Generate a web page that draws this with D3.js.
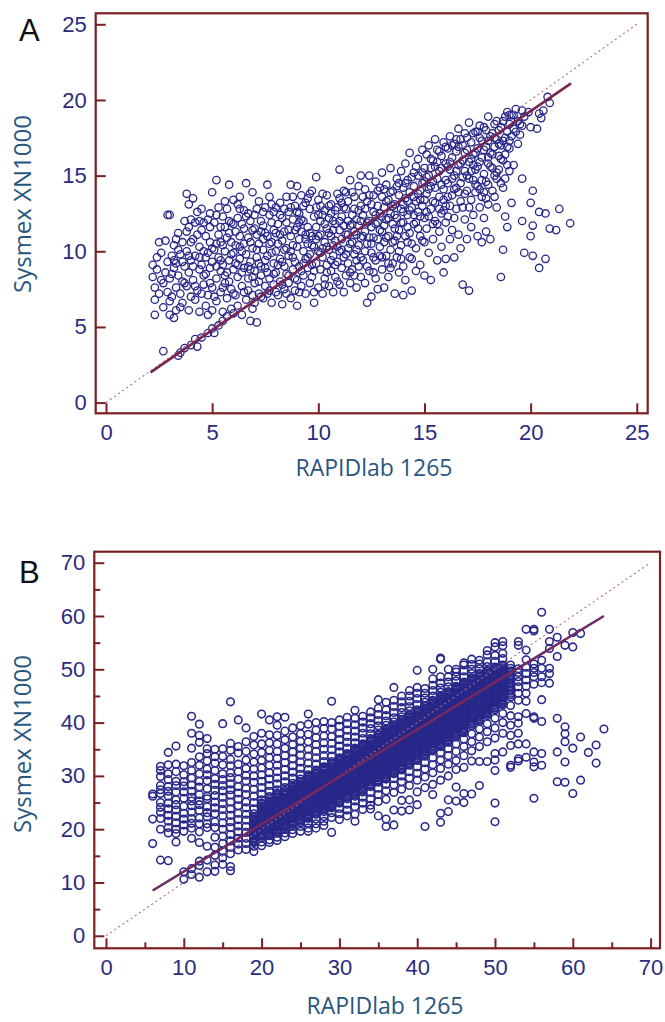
<!DOCTYPE html>
<html><head><meta charset="utf-8">
<script src="https://cdn.jsdelivr.net/npm/d3@7"></script>
<style>
html,body{margin:0;padding:0;background:#fff;}
svg{display:block;}
</style></head>
<body>
<svg id="c" width="665" height="1022"></svg>
<script>
// ---------- Panel A data (RAPIDlab 1265 vs Sysmex XN1000) ----------
const aPoints = [
[2.2,8.3],[2.2,9.1],[2.3,5.8],[2.3,6.8],[2.3,7.6],[2.4,9.6],[2.4,8.8],[2.5,10.6],[2.5,7.2],[2.6,8.1],[2.6,9.9],[2.7,3.4],[2.7,6.3],[2.7,7.9],[2.8,8.6],[2.8,10.7],[2.9,12.4],[2.9,7.3],[2.9,9.3],[3.0,12.4],[3.0,5.8],[3.0,8.2],[3.0,6.7],
[3.1,9.7],[3.1,7.0],[3.2,5.6],[3.2,8.9],[3.2,10.4],[3.3,7.6],[3.3,9.2],[3.3,6.1],[3.4,8.4],[3.4,11.2],[3.4,3.1],[3.5,9.8],[3.5,7.2],[3.5,3.3],[3.6,10.6],[3.6,8.0],[3.6,6.6],[3.7,9.0],[3.7,12.0],[3.7,3.6],[3.8,13.8],[3.8,11.3],[3.8,7.7],[3.8,10.0],[3.9,8.6],[3.9,6.1],[3.9,13.1],[4.0,9.4],[4.0,12.1],[4.0,3.8],[4.0,7.0],
[4.1,10.8],[4.1,8.1],[4.1,13.5],[4.2,9.7],[4.2,11.9],[4.2,4.2],[4.2,6.8],[4.3,7.4],[4.3,12.6],[4.3,3.7],[4.4,8.8],[4.4,10.3],[4.4,6.0],[4.5,11.4],[4.5,9.1],[4.5,12.8],[4.5,4.3],[4.6,7.8],[4.6,10.0],[4.6,8.4],[4.7,11.0],[4.7,6.4],[4.7,9.6],[4.8,4.6],[4.8,12.1],[4.8,7.1],[4.8,5.8],[4.9,10.6],[4.9,8.9],[4.9,11.6],[5.0,4.9],[5.0,13.9],[5.0,9.3],[5.0,7.6],[5.0,6.1],
[5.1,4.6],[5.1,10.1],[5.1,11.9],[5.2,8.2],[5.2,14.7],[5.2,12.4],[5.2,6.7],[5.3,9.6],[5.3,5.1],[5.3,11.1],[5.4,7.3],[5.4,10.6],[5.4,8.7],[5.5,5.4],[5.5,12.3],[5.5,9.1],[5.5,6.0],[5.6,11.6],[5.6,7.9],[5.6,10.0],[5.7,5.7],[5.7,8.6],[5.7,12.8],[5.7,6.9],[5.8,9.4],[5.8,11.2],[5.8,14.4],[5.9,7.5],[5.9,10.6],[5.9,6.2],[6.0,8.8],[6.0,11.8],[6.0,13.4],[6.0,9.9],[6.0,5.9],
[6.1,7.1],[6.1,10.4],[6.2,12.2],[6.2,8.3],[6.2,6.4],[6.3,9.5],[6.3,11.0],[6.3,13.6],[6.4,7.7],[6.4,10.0],[6.4,5.8],[6.5,8.9],[6.5,12.7],[6.5,11.5],[6.6,6.8],[6.6,9.8],[6.6,14.5],[6.7,8.2],[6.7,10.9],[6.7,7.4],[6.8,12.0],[6.8,9.3],[6.8,5.4],[6.9,6.2],[6.9,11.4],[6.9,10.2],[6.9,13.9],[7.0,7.9],[7.0,8.7],[7.0,12.4],[7.0,6.6],
[7.1,9.6],[7.1,11.1],[7.1,5.3],[7.2,13.3],[7.2,7.2],[7.2,10.5],[7.3,8.4],[7.3,12.0],[7.3,9.0],[7.4,6.9],[7.4,11.7],[7.4,10.1],[7.5,7.7],[7.5,12.9],[7.5,8.9],[7.6,14.4],[7.6,9.7],[7.6,11.0],[7.7,7.4],[7.7,8.2],[7.7,12.4],[7.8,10.6],[7.8,6.6],[7.8,13.1],[7.9,9.2],[7.9,11.4],[7.9,7.8],[8.0,12.9],[8.0,8.6],[8.0,10.0],
[8.1,7.1],[8.1,11.8],[8.2,9.5],[8.2,13.2],[8.2,8.0],[8.3,10.7],[8.3,12.2],[8.3,6.5],[8.4,9.0],[8.4,11.3],[8.4,7.5],[8.5,10.2],[8.5,13.6],[8.5,8.5],[8.6,12.6],[8.6,7.9],[8.6,9.7],[8.7,11.0],[8.7,6.9],[8.7,14.4],[8.8,8.8],[8.8,12.1],[8.8,10.4],[8.9,7.4],[8.9,9.3],[8.9,13.0],[9.0,14.3],[9.0,11.6],[9.0,8.1],[9.0,6.4],
[9.1,10.8],[9.1,12.5],[9.1,9.0],[9.2,7.7],[9.2,13.7],[9.2,11.3],[9.3,8.4],[9.3,10.0],[9.3,12.0],[9.4,9.5],[9.4,7.2],[9.4,13.2],[9.5,11.6],[9.5,8.9],[9.5,10.5],[9.6,12.8],[9.6,7.9],[9.6,9.8],[9.7,11.0],[9.7,14.0],[9.7,8.3],[9.8,10.3],[9.8,12.3],[9.8,6.6],[9.9,9.2],[9.9,14.9],[9.9,11.6],[10.0,7.6],[10.0,13.4],[10.0,10.0],
[10.1,8.8],[10.1,12.0],[10.1,11.1],[10.2,13.8],[10.2,9.6],[10.2,7.2],[10.3,10.6],[10.3,12.7],[10.3,8.2],[10.4,11.5],[10.4,9.1],[10.4,13.7],[10.5,10.1],[10.5,7.7],[10.5,12.2],[10.6,8.7],[10.6,11.0],[10.6,13.1],[10.7,9.7],[10.7,12.0],[10.7,7.3],[10.8,10.7],[10.8,11.8],[10.8,8.3],[10.9,12.9],[10.9,9.3],[10.9,10.3],[11.0,11.4],[11.0,7.8],[11.0,13.5],[11.0,15.4],
[11.1,8.9],[11.1,12.3],[11.1,10.8],[11.2,9.6],[11.2,14.0],[11.2,7.3],[11.3,11.1],[11.3,12.8],[11.3,8.4],[11.4,10.2],[11.4,13.3],[11.4,9.2],[11.5,11.7],[11.5,7.9],[11.5,14.7],[11.6,10.6],[11.6,12.4],[11.6,8.8],[11.7,9.8],[11.7,13.6],[11.7,11.3],[11.8,7.6],[11.8,12.1],[11.8,10.1],[11.9,14.3],[11.9,9.0],[11.9,11.7],[12.0,8.3],[12.0,13.0],[12.0,10.9],[12.0,15.0],
[12.1,12.4],[12.1,9.4],[12.2,11.3],[12.2,14.1],[12.2,7.9],[12.3,6.6],[12.3,10.5],[12.3,13.3],[12.4,12.0],[12.4,8.7],[12.4,15.0],[12.5,11.6],[12.5,9.9],[12.5,7.0],[12.6,13.7],[12.6,10.9],[12.6,12.6],[12.7,8.2],[12.7,14.6],[12.7,9.4],[12.8,11.9],[12.8,13.0],[12.8,7.5],[12.9,10.3],[12.9,12.5],[12.9,14.2],[13.0,8.8],[13.0,11.3],[13.0,13.6],[13.0,15.2],
[13.1,10.6],[13.1,12.9],[13.1,7.6],[13.2,14.4],[13.2,9.7],[13.2,12.1],[13.3,11.0],[13.3,13.4],[13.3,8.3],[13.4,15.5],[13.4,12.5],[13.4,10.1],[13.5,14.0],[13.5,9.2],[13.5,11.8],[13.6,13.1],[13.6,7.2],[13.6,10.7],[13.7,14.8],[13.7,12.2],[13.7,9.6],[13.8,11.4],[13.8,13.7],[13.8,8.6],[13.9,15.3],[13.9,12.8],[13.9,10.4],[14.0,14.2],[14.0,7.1],[14.0,11.9],[14.0,9.0],
[14.1,13.5],[14.1,15.8],[14.1,8.1],[14.2,12.4],[14.2,10.6],[14.2,14.7],[14.3,16.5],[14.3,11.2],[14.3,13.9],[14.4,9.5],[14.4,12.9],[14.4,7.4],[14.5,15.2],[14.5,11.8],[14.5,14.3],[14.6,10.2],[14.6,13.3],[14.6,8.7],[14.7,16.1],[14.7,12.6],[14.7,15.0],[14.8,11.0],[14.8,14.0],[14.8,9.1],[14.9,13.0],[14.9,16.7],[14.9,10.7],[15.0,15.5],[15.0,12.2],[15.0,14.6],[15.0,8.4],
[15.1,13.8],[15.1,16.4],[15.1,11.5],[15.2,15.0],[15.2,9.9],[15.2,17.0],[15.3,12.8],[15.3,14.3],[15.3,8.1],[15.4,16.0],[15.4,13.3],[15.4,10.8],[15.5,15.6],[15.5,17.4],[15.5,12.0],[15.6,14.8],[15.6,9.4],[15.6,16.7],[15.7,13.6],[15.7,11.3],[15.7,15.3],[15.8,16.3],[15.8,12.5],[15.8,10.3],[15.9,14.1],[15.9,17.2],[15.9,8.6],[16.0,15.8],[16.0,13.0],[16.0,11.9],[16.0,9.5],
[16.1,16.8],[16.1,14.5],[16.1,12.3],[16.2,15.4],[16.2,17.6],[16.2,10.8],[16.3,13.7],[16.3,16.2],[16.3,11.4],[16.4,15.0],[16.4,17.1],[16.4,9.6],[16.5,14.2],[16.5,16.6],[16.5,12.8],[16.6,18.1],[16.6,15.7],[16.6,11.1],[16.7,13.3],[16.7,17.4],[16.7,10.2],[16.8,14.9],[16.8,16.0],[16.8,7.8],[16.9,12.1],[16.9,17.8],[16.9,15.3],[17.0,14.0],[17.0,16.7],[17.0,10.8],[17.1,7.4],
[17.1,18.5],[17.1,15.9],[17.2,13.4],[17.2,17.2],[17.2,11.6],[17.3,16.4],[17.3,14.7],[17.3,12.4],[17.4,17.9],[17.4,15.4],[17.4,13.9],[17.5,16.8],[17.5,11.0],[17.5,14.3],[17.6,17.5],[17.6,15.9],[17.6,12.9],[17.7,16.2],[17.7,13.6],[17.7,10.6],[17.8,18.2],[17.8,15.1],[17.8,12.2],[17.9,16.9],[17.9,14.6],[17.9,11.3],[18.0,18.9],[18.0,17.3],[18.0,15.8],[18.0,13.1],
[18.1,16.5],[18.1,10.8],[18.2,17.8],[18.2,14.0],[18.3,18.4],[18.3,16.9],[18.3,13.6],[18.4,17.4],[18.4,15.2],[18.4,12.9],[18.5,18.0],[18.5,16.3],[18.6,14.5],[18.6,17.0],[18.6,8.3],[18.7,18.6],[18.7,14.2],[18.7,10.1],[18.8,17.5],[18.8,16.4],[18.8,12.3],[18.9,19.2],[18.9,17.9],[18.9,11.6],[19.0,18.4],[19.0,16.8],[19.0,15.3],
[19.1,19.0],[19.1,17.6],[19.1,13.2],[19.2,18.1],[19.2,15.7],[19.3,19.4],[19.3,17.9],[19.4,18.6],[19.5,17.7],[19.6,14.8],[19.6,19.3],[19.6,18.3],[19.6,12.0],[19.7,18.9],[19.7,9.9],[19.9,19.2],[20.0,13.2],[20.0,18.2],[20.0,11.0],[20.1,14.0],[20.1,11.7],[20.1,9.7],
[20.3,18.1],[20.4,12.6],[20.4,19.1],[20.4,8.9],[20.5,18.8],[20.6,19.3],[20.7,12.5],[20.7,9.5],[20.8,20.2],[20.9,11.5],[20.9,19.8],[21.2,11.4],[21.35,12.8],[21.86,11.85],
[3.2,9.4],[3.4,10.1],[3.6,9.3],[3.9,11.6],[4.1,9.0],[4.3,11.1],[4.4,9.6],[4.6,11.9],[4.8,9.9],[4.9,7.9],[5.2,9.0],[5.4,11.6],[5.5,10.4],[5.6,8.4],[5.8,12.0],[5.9,9.8],[6.1,11.3],[6.2,9.1],[6.3,12.8],[6.4,8.6],[6.5,10.5],[6.7,12.5],[6.8,8.8],[6.9,7.1],
[7.1,10.1],[7.2,8.0],[7.3,11.3],[7.4,12.6],[7.5,9.4],[7.6,7.2],[7.7,10.5],[7.8,11.9],[7.9,8.5],[8.0,11.2],[8.1,9.1],[8.2,12.4],[8.3,7.8],[8.4,10.1],[8.5,11.9],[8.6,8.4],[8.7,12.9],[8.8,9.6],[8.9,11.4],[9.0,10.3],[9.1,7.3],[9.2,12.1],[9.3,9.2],[9.4,10.8],[9.5,13.5],[9.6,11.2],[9.7,9.1],[9.8,7.3],[9.9,12.9],[10.0,11.0],
[10.1,9.9],[10.2,12.4],[10.3,7.8],[10.4,10.3],[10.5,13.0],[10.6,9.4],[10.7,11.4],[10.8,12.7],[10.9,8.0],[11.0,10.0],[11.1,13.2],[11.2,11.7],[11.3,9.8],[11.4,12.0],[11.5,10.5],[11.6,13.9],[11.7,8.4],[11.8,11.1],[11.9,12.7],[12.0,9.6],
[12.1,11.0],[12.2,12.8],[12.3,9.0],[12.4,13.7],[12.5,10.5],[12.6,8.6],[12.7,11.8],[12.8,14.0],[12.9,9.7],[13.0,12.3],[13.1,14.1],[13.2,10.9],[13.3,12.2],[13.4,8.9],[13.5,13.0],[13.6,11.5],[13.7,14.3],[13.8,10.0],[13.9,11.9],[14.0,13.1],
[14.1,11.0],[14.2,13.3],[14.3,9.6],[14.4,14.9],[14.5,12.4],[14.6,15.6],[14.7,11.5],[14.8,13.4],[14.9,15.2],[15.0,10.6],[15.1,14.9],[15.2,12.3],[15.3,16.1],[15.4,14.6],[15.5,13.2],[15.6,11.8],[15.7,16.6],[15.8,14.4],[15.9,12.7],[16.0,16.9],
[16.1,13.6],[16.2,15.9],[16.3,14.8],[16.4,12.2],[16.5,17.4],[16.6,13.9],[16.7,15.8],[16.8,12.9],[16.9,16.5],[17.0,15.0],[17.1,12.9],[17.2,16.1],[17.3,17.8],[17.4,14.4],[17.5,15.6],[17.6,18.3],[17.7,14.7],[17.8,16.7],[17.9,13.5],[18.0,16.2],
[18.1,17.6],[18.2,15.5],[18.3,17.5],[18.4,14.8],[18.5,17.1],[18.6,18.2],[18.7,16.0],[18.8,18.9],[18.9,15.7],[19.0,17.3],[19.2,19.0],[19.4,17.1],[19.5,18.4],
[3.1,8.5],[3.3,10.8],[3.5,6.3],[3.7,7.9],[3.9,9.7],[4.0,10.6],[4.2,7.7],[4.4,12.0],[4.5,7.2],[4.7,8.5],[4.9,12.5],[5.0,10.2],
[5.1,7.0],[5.2,10.5],[5.3,12.9],[5.4,9.4],[5.5,7.6],[5.6,13.3],[5.7,10.9],[5.8,8.0],[5.9,11.9],[6.0,7.2],[6.1,9.2],[6.2,13.1],[6.3,10.3],[6.4,11.8],[6.5,7.3],[6.6,12.3],[6.7,9.0],[6.8,10.6],[6.9,8.3],[7.0,11.5],
[7.1,12.8],[7.2,9.2],[7.3,7.0],[7.4,10.8],[7.5,11.2],[7.6,8.6],[7.7,13.6],[7.8,9.9],[7.9,12.6],[8.0,7.3],[8.1,10.5],[8.2,11.1],[8.3,9.3],[8.4,12.8],[8.5,7.2],[8.6,11.4],[8.7,10.0],[8.8,13.6],[8.9,8.2],[9.0,12.6],
[9.1,11.9],[9.2,8.7],[9.3,13.0],[9.4,11.1],[9.5,9.6],[9.6,13.8],[9.7,10.4],[9.8,8.7],[9.9,10.8],[10.0,12.4],[10.1,13.0],[10.2,10.2],[10.3,11.8],[10.4,8.6],[10.5,11.2],[10.6,12.5],[10.7,10.4],[10.8,9.1],[10.9,13.8],[11.0,12.0],
[11.1,10.1],[11.2,12.9],[11.3,13.9],[11.4,11.1],[11.5,8.6],[11.6,11.8],[11.7,12.8],[11.8,9.4],[11.9,10.4],[12.0,12.0],[12.1,13.6],[12.2,10.0],[12.3,11.9],[12.4,10.9],[12.5,13.1],[12.6,9.6],[12.7,12.4],[12.8,10.8],[12.9,11.4],[13.0,9.6],
[13.1,11.7],[13.2,13.3],[13.3,9.2],[13.4,13.9],[13.5,10.6],[13.6,12.4],[13.7,11.0],[13.8,14.5],[13.9,9.5],[14.0,12.6],[14.1,14.5],[14.2,11.6],[14.3,12.7],[14.4,10.5],[14.5,13.6],[14.6,11.9],[14.7,13.8],[14.8,12.3],[14.9,14.5],[15.0,13.4],
[15.1,12.6],[15.2,14.1],[15.3,15.5],[15.4,11.8],[15.5,14.2],[15.6,15.9],[15.7,12.8],[15.8,15.5],[15.9,13.4],[16.0,14.7],[16.1,15.6],[16.2,13.0],[16.3,17.0],[16.4,14.1],[16.5,15.3],[16.6,16.9],[16.7,14.5],[16.8,17.0],[16.9,13.8],[17.0,17.5],
[17.1,14.8],[17.2,15.3],[17.3,15.7],[17.4,16.5],[17.5,17.9],[17.6,14.1],[17.7,17.3],[17.8,13.9],[17.9,18.0],[18.0,14.4],[18.1,15.6],[18.2,16.4],[18.3,15.0],[18.4,18.6],[18.5,15.4],[18.6,16.1],[18.7,17.3],[18.8,14.8],[18.9,16.9],[19.0,19.0]
];
const aFit = [[2.1, 2.0], [21.9, 21.1]];
const aIdentity = [[0, 0], [25, 25]];
const aTicks = [0, 5, 10, 15, 20, 25];

// ---------- Panel B data ----------
const bX = [6,7,8,9,10,11,12,13,14,15,16,17,18,19,20,21,22,23,24,25,26,27,28,29,30,31,32,33,34,35,36,37,38,39,40,41,42,43,44,45,46,47,48,49,50,51,52,53,54,55,56,57,58,59,60,61,62,63,64];
const bY = [
[26.6,26.2,21.9,17.3],
[31.8,31.0,29.9,28.2,27.4,26.7,25.0,24.1,23.2,22.0,20.0,14.2],
[34.4,32.1,30.4,29.3,28.0,27.1,26.2,24.9,23.8,22.6,21.5,20.3,19.3,14.1],
[35.6,32.2,30.8,29.0,28.2,27.0,25.5,24.6,23.6,22.4,21.2,20.0,19.2,17.6],
[31.9,30.2,28.9,28.1,27.0,25.8,24.3,23.0,21.9,20.8,19.6,12.0,10.6],
[41.2,38.0,35.2,32.5,31.0,29.6,28.3,27.1,26.0,25.3,24.4,23.2,22.0,21.1,20.2,18.3,12.6,11.5],
[39.7,37.6,36.3,33.6,32.0,30.4,29.0,27.9,26.5,25.3,24.6,23.5,22.1,21.0,19.5,17.5,14.0,13.2,11.0],
[37.0,35.1,34.2,32.8,31.3,30.2,29.1,27.6,26.2,25.7,24.2,23.1,22.3,21.0,20.3,16.8,14.2,12.0],
[35.0,33.6,32.4,31.0,29.5,28.4,27.3,26.3,25.1,24.0,22.9,21.4,20.3,18.5,16.6,15.1,13.3,12.1],
[39.8,35.1,33.7,32.1,30.4,29.3,28.2,27.2,26.0,24.8,23.7,22.5,21.2,20.0,18.7,17.3,15.9,14.6,13.4],
[43.9,36.1,34.8,33.1,31.9,30.6,29.7,28.5,27.4,26.4,25.1,23.8,22.6,21.4,20.3,19.0,17.8,16.6,15.4,13.0,12.2],
[40.5,35.5,34.3,32.2,30.8,29.4,28.0,26.8,25.6,24.4,23.0,21.8,20.6,19.5,18.3,17.2,16.1],
[39.0,36.4,34.6,33.0,31.4,30.1,29.0,27.7,26.5,25.1,24.0,22.8,21.7,20.5,19.4,18.3,17.3,16.2],
[37.4,35.8,34.1,32.6,31.3,30.0,28.8,27.5,26.2,25.0,23.8,22.9,22.4,21.9,21.4,20.9,20.4,19.9,19.4,18.9,18.4,17.9,17.5,16.8,15.8],
[41.6,38.0,36.0,34.4,32.9,31.5,30.2,29.0,27.8,26.6,25.5,24.9,24.4,23.9,23.4,22.9,22.4,21.9,21.4,20.9,20.4,19.9,19.4,18.9,18.4,17.6,16.9],
[40.5,37.7,36.2,34.8,33.4,32.0,30.6,29.4,28.2,27.1,26.1,25.6,25.1,24.6,24.1,23.6,23.1,22.6,22.1,21.6,21.1,20.6,20.1,19.6,19.1,18.8,18.0,17.5],
[41.1,39.5,37.6,36.0,34.6,33.3,32.0,30.8,29.6,28.5,27.4,26.8,26.3,25.8,25.3,24.8,24.3,23.8,23.3,22.8,22.3,21.8,21.3,20.8,20.3,19.8,19.3,18.5,17.9],
[41.0,38.4,36.8,35.2,33.8,32.5,31.2,30.0,28.9,27.8,27.3,26.8,26.3,25.8,25.3,24.8,24.3,23.8,23.3,22.8,22.3,21.8,21.3,20.8,20.3,20.0,19.3,18.6],
[39.0,37.3,35.9,34.5,33.2,31.9,30.7,29.6,28.6,28.1,27.6,27.1,26.6,26.1,25.6,25.1,24.6,24.1,23.6,23.1,22.6,22.1,21.6,21.1,20.6,19.9,19.2],
[39.4,37.9,36.5,35.2,33.9,32.6,31.4,30.3,29.4,29.0,28.5,28.0,27.5,27.0,26.5,26.0,25.5,25.0,24.5,24.0,23.5,23.0,22.5,22.0,21.5,21.2,20.5,19.6],
[41.6,39.7,37.8,36.4,35.0,33.7,32.4,31.2,30.2,29.9,29.4,28.9,28.4,27.9,27.4,26.9,26.4,25.9,25.4,24.9,24.4,23.9,23.4,22.9,22.4,22.0,21.1,20.2,19.6],
[40.0,38.6,37.2,35.9,34.6,33.4,32.2,31.1,30.8,30.3,29.8,29.3,28.8,28.3,27.8,27.3,26.8,26.3,25.8,25.3,24.8,24.3,23.8,23.3,22.8,21.9,21.0,20.2],
[40.2,38.9,37.5,36.2,35.0,33.8,32.7,31.7,31.6,31.1,30.6,30.1,29.6,29.1,28.6,28.1,27.6,27.1,26.6,26.1,25.6,25.1,24.6,24.1,23.6,23.3,22.4,21.5,20.7],
[44.0,40.0,38.8,37.4,36.1,34.9,33.7,32.7,32.4,31.9,31.4,30.9,30.4,29.9,29.4,28.9,28.4,27.9,27.4,26.9,26.4,25.9,25.4,24.9,24.4,24.0,23.1,22.2,19.4],
[40.5,39.3,38.0,36.8,35.6,34.5,33.4,32.9,32.4,31.9,31.4,30.9,30.4,29.9,29.4,28.9,28.4,27.9,27.4,26.9,26.4,25.9,25.4,24.9,23.9,22.9,21.8],
[41.0,39.8,38.6,37.4,36.3,35.2,34.2,33.7,33.2,32.7,32.2,31.7,31.2,30.7,30.2,29.7,29.2,28.7,28.2,27.7,27.2,26.7,26.2,25.7,24.7,23.6,22.5],
[42.3,40.8,39.6,38.4,37.3,36.2,35.2,34.7,34.2,33.7,33.2,32.7,32.2,31.7,31.2,30.7,30.2,29.7,29.2,28.7,28.2,27.7,27.2,26.7,26.2,25.3,24.2,22.8,21.5],
[41.2,40.1,39.0,38.0,37.0,36.0,35.5,35.0,34.5,34.0,33.5,33.0,32.5,32.0,31.5,31.0,30.5,30.0,29.5,29.0,28.5,28.0,27.5,27.0,26.0,24.9,23.7],
[42.0,40.9,39.8,38.9,37.9,37.0,36.5,36.0,35.5,35.0,34.5,34.0,33.5,33.0,32.5,32.0,31.5,31.0,30.5,30.0,29.5,29.0,28.5,28.0,26.9,25.7,24.5,23.8],
[44.3,42.7,41.5,40.4,39.4,38.6,37.8,37.3,36.8,36.3,35.8,35.3,34.8,34.3,33.8,33.3,32.8,32.3,31.8,31.3,30.8,30.3,29.8,29.3,28.8,27.7,26.5,25.2,22.5],
[43.8,42.4,41.3,40.3,39.5,38.8,38.3,37.8,37.3,36.8,36.3,35.8,35.3,34.8,34.3,33.8,33.3,32.8,32.3,31.8,31.3,30.8,30.3,29.8,29.4,28.4,27.2,25.6,21.9,20.5],
[46.6,44.2,43.0,41.9,40.9,40.1,39.6,39.1,38.6,38.1,37.6,37.1,36.6,36.1,35.6,35.1,34.6,34.1,33.6,33.1,32.6,32.1,31.6,31.1,30.6,29.5,28.3,26.9,23.6,20.8],
[45.0,43.9,42.8,41.9,41.1,40.6,40.1,39.6,39.1,38.6,38.1,37.6,37.1,36.6,36.1,35.6,35.1,34.6,34.1,33.6,33.1,32.6,32.1,31.6,31.1,30.0,28.9,27.5,25.4,23.4],
[46.0,45.0,44.0,43.0,42.2,41.5,41.0,40.5,40.0,39.5,39.0,38.5,38.0,37.5,37.0,36.5,36.0,35.5,35.0,34.5,34.0,33.5,33.0,32.5,32.0,30.8,29.6,28.2,25.5,23.6],
[49.8,46.6,45.5,44.5,43.4,42.4,41.9,41.4,40.9,40.4,39.9,39.4,38.9,38.4,37.9,37.4,36.9,36.4,35.9,35.4,34.9,34.4,33.9,33.4,32.9,31.7,30.5,29.2,27.0,24.6],
[46.4,45.5,44.6,43.8,43.2,42.7,42.2,41.7,41.2,40.7,40.2,39.7,39.2,38.7,38.2,37.7,37.2,36.7,36.2,35.7,35.2,34.7,34.2,33.7,32.5,31.3,29.8,27.8,20.5],
[50.0,48.2,47.0,46.0,45.0,44.2,43.7,43.2,42.7,42.2,41.7,41.2,40.7,40.2,39.7,39.2,38.7,38.2,37.7,37.2,36.7,36.2,35.7,35.2,34.7,33.4,32.1,30.6,28.4,26.5],
[52.1,51.9,48.6,47.4,46.5,45.7,45.0,44.5,44.0,43.5,43.0,42.5,42.0,41.5,41.0,40.5,40.0,39.5,39.0,38.5,38.0,37.5,37.0,36.5,36.0,35.5,34.3,33.0,31.4,29.2,23.0,21.3],
[50.0,48.6,47.6,46.7,45.8,45.3,44.8,44.3,43.8,43.3,42.8,42.3,41.8,41.3,40.8,40.3,39.8,39.3,38.8,38.3,37.8,37.3,36.8,36.3,35.1,33.8,32.2,30.0,25.5,23.3],
[50.0,49.5,48.7,47.8,46.8,46.3,45.8,45.3,44.8,44.3,43.8,43.3,42.8,42.3,41.8,41.3,40.8,40.3,39.8,39.3,38.8,38.3,37.8,37.3,36.0,34.6,32.9,31.2,27.9,25.3],
[51.2,50.8,49.7,48.6,47.6,47.1,46.6,46.1,45.6,45.1,44.6,44.1,43.6,43.1,42.6,42.1,41.6,41.1,40.6,40.1,39.6,39.1,38.6,38.1,36.9,35.5,33.8,31.6,26.7,25.0],
[51.9,50.9,50.0,49.2,48.4,47.9,47.4,46.9,46.4,45.9,45.4,44.9,44.4,43.9,43.4,42.9,42.4,41.9,41.4,40.9,40.4,39.9,39.4,37.9,36.4,34.7,32.8,26.6],
[51.7,51.0,50.1,49.2,48.7,48.2,47.7,47.2,46.7,46.2,45.7,45.2,44.7,44.2,43.7,43.2,42.7,42.2,41.7,41.2,40.7,40.2,38.8,37.3,35.5,32.7,28.2],
[53.5,52.7,51.4,50.5,49.8,49.3,48.8,48.3,47.8,47.3,46.8,46.3,45.8,45.3,44.8,44.3,43.8,43.3,42.8,42.3,41.8,41.3,39.8,38.3,36.4,32.7],
[55.0,54.2,52.6,51.5,50.4,49.9,49.4,48.9,48.4,47.9,47.4,46.9,46.4,45.9,45.4,44.9,44.4,43.9,43.4,42.9,42.4,40.8,39.0,37.1,34.2,33.0,31.0,24.9,21.4],
[55.2,54.4,53.0,52.0,50.8,50.3,49.8,49.3,48.8,48.3,47.8,47.3,46.8,46.3,45.8,45.3,44.8,44.3,43.8,43.3,41.7,40.0,38.0,34.5],
[50.8,50.2,49.7,49.0,48.3,47.6,46.9,46.2,45.5,44.8,43.2,41.3,39.5,37.6,35.7,32.0,31.6],
[55.2,54.5,50.1,49.4,48.6,47.7,46.7,45.5,44.2,41.1,39.9,38.0,36.0,33.2,32.8],
[57.5,53.6,51.8,50.4,49.2,48.0,46.8,45.5,44.0,41.7,36.0,33.5],
[57.2,57.5,51.0,50.2,49.4,48.6,47.2,41.1,40.8,34.5,32.6,31.7,25.8],
[60.7,51.7,50.2,48.6,47.5,44.3,40.2,34.2,32.0],
[57.5,55.2,53.9,50.2,49.2,47.4],
[56.0,52.4,40.8,34.5,28.9],
[54.5,39.2,37.9,36.4,32.6,28.8],
[56.9,54.2,35.2,26.7],
[56.7,37.3,29.2],
[34.4],
[35.8,32.4],
[38.8]
];
// extra readings inside the solid central band of panel B
const bCoreX = [19,20,21,22,23,24,25,26,27,28,29,30,31,32,33,34,35,36,37,38,39,40,41,42,43,44,45,46,47,48,49,50,51,52];
const bCoreY = [
[22.2,21.7,21.2,20.7,20.2,19.7,19.2,18.7,18.2,17.7],
[24.7,24.2,23.7,23.2,22.7,22.2,21.7,21.2,20.7,20.2,19.7,19.2,18.7],
[25.3,24.8,24.3,23.8,23.3,22.8,22.3,21.8,21.3,20.8,20.3,19.8,19.3],
[26.5,26.0,25.5,25.0,24.5,24.0,23.5,23.0,22.5,22.0,21.5,21.0,20.5,20.0,19.5],
[27.0,26.5,26.0,25.5,25.0,24.5,24.0,23.5,23.0,22.5,22.0,21.5,21.0,20.5],
[27.9,27.4,26.9,26.4,25.9,25.4,24.9,24.4,23.9,23.4,22.9,22.4,21.9,21.4,20.9],
[28.8,28.3,27.8,27.3,26.8,26.3,25.8,25.3,24.8,24.3,23.8,23.3,22.8,22.3,21.8],
[29.7,29.2,28.7,28.2,27.7,27.2,26.7,26.2,25.7,25.2,24.7,24.2,23.7,23.2,22.7,22.2],
[30.5,30.0,29.5,29.0,28.5,28.0,27.5,27.0,26.5,26.0,25.5,25.0,24.5,24.0,23.5,23.0],
[31.4,30.9,30.4,29.9,29.4,28.9,28.4,27.9,27.4,26.9,26.4,25.9,25.4,24.9,24.4,23.9],
[32.2,31.7,31.2,30.7,30.2,29.7,29.2,28.7,28.2,27.7,27.2,26.7,26.2,25.7,25.2,24.7,24.2],
[33.2,32.7,32.2,31.7,31.2,30.7,30.2,29.7,29.2,28.7,28.2,27.7,27.2,26.7,26.2,25.7,25.2],
[34.0,33.5,33.0,32.5,32.0,31.5,31.0,30.5,30.0,29.5,29.0,28.5,28.0,27.5,27.0,26.5,26.0],
[35.0,34.5,34.0,33.5,33.0,32.5,32.0,31.5,31.0,30.5,30.0,29.5,29.0,28.5,28.0,27.5,27.0,26.5],
[35.8,35.3,34.8,34.3,33.8,33.3,32.8,32.3,31.8,31.3,30.8,30.3,29.8,29.3,28.8,28.3,27.8,27.3],
[36.8,36.3,35.8,35.3,34.8,34.3,33.8,33.3,32.8,32.3,31.8,31.3,30.8,30.3,29.8,29.3,28.8,28.3],
[37.6,37.1,36.6,36.1,35.6,35.1,34.6,34.1,33.6,33.1,32.6,32.1,31.6,31.1,30.6,30.1,29.6,29.1],
[38.6,38.1,37.6,37.1,36.6,36.1,35.6,35.1,34.6,34.1,33.6,33.1,32.6,32.1,31.6,31.1,30.6,30.1,29.6],
[39.4,38.9,38.4,37.9,37.4,36.9,36.4,35.9,35.4,34.9,34.4,33.9,33.4,32.9,32.4,31.9,31.4,30.9,30.4],
[40.4,39.9,39.4,38.9,38.4,37.9,37.4,36.9,36.4,35.9,35.4,34.9,34.4,33.9,33.4,32.9,32.4,31.9,31.4],
[41.3,40.8,40.3,39.8,39.3,38.8,38.3,37.8,37.3,36.8,36.3,35.8,35.3,34.8,34.3,33.8,33.3,32.8,32.3],
[42.2,41.7,41.2,40.7,40.2,39.7,39.2,38.7,38.2,37.7,37.2,36.7,36.2,35.7,35.2,34.7,34.2,33.7,33.2],
[43.0,42.5,42.0,41.5,41.0,40.5,40.0,39.5,39.0,38.5,38.0,37.5,37.0,36.5,36.0,35.5,35.0,34.5,34.0],
[44.0,43.5,43.0,42.5,42.0,41.5,41.0,40.5,40.0,39.5,39.0,38.5,38.0,37.5,37.0,36.5,36.0,35.5,35.0],
[44.8,44.3,43.8,43.3,42.8,42.3,41.8,41.3,40.8,40.3,39.8,39.3,38.8,38.3,37.8,37.3,36.8,36.3,35.8],
[45.6,45.1,44.6,44.1,43.6,43.1,42.6,42.1,41.6,41.1,40.6,40.1,39.6,39.1,38.6,38.1,37.6,37.1,36.6],
[46.6,46.1,45.6,45.1,44.6,44.1,43.6,43.1,42.6,42.1,41.6,41.1,40.6,40.1,39.6,39.1,38.6,38.1,37.6],
[47.4,46.9,46.4,45.9,45.4,44.9,44.4,43.9,43.4,42.9,42.4,41.9,41.4,40.9,40.4,39.9,39.4,38.9,38.4],
[48.2,47.7,47.2,46.7,46.2,45.7,45.2,44.7,44.2,43.7,43.2,42.7,42.2,41.7,41.2,40.7,40.2,39.7],
[49.0,48.5,48.0,47.5,47.0,46.5,46.0,45.5,45.0,44.5,44.0,43.5,43.0,42.5,42.0,41.5,41.0,40.5],
[49.6,49.1,48.6,48.1,47.6,47.1,46.6,46.1,45.6,45.1,44.6,44.1,43.6,43.1,42.6,42.1,41.6],
[50.2,49.7,49.2,48.7,48.2,47.7,47.2,46.7,46.2,45.7,45.2,44.7,44.2,43.7,43.2,42.7],
[50.6,50.1,49.6,49.1,48.6,48.1,47.6,47.1,46.6,46.1,45.6,45.1,44.6,44.1,43.6],
[49.4,48.7,48.0,47.3,46.6,45.9,45.2]
];
const bFit = [[6, 8.5], [64, 60.0]];
const bIdentity = [[0, 0], [70, 70]];
const bTicks = [0, 10, 20, 30, 40, 50, 60, 70];
const bMinorTicks = [5, 15, 25, 35, 45, 55, 65];

const xTitle = "RAPIDlab 1265";
const yTitle = "Sysmex XN1000";

// ---------- drawing ----------
const svg = d3.select("#c");
const FRAME = "#7a1f22";
const MARK = "#28288a";
const TICKTXT = "#2b2c7e";
const TITLE = "#28567f";

function panel(cfg) {
  const g = svg.append("g");
  const x = d3.scaleLinear().domain(cfg.domain).range(cfg.xr);
  const y = d3.scaleLinear().domain(cfg.domain).range(cfg.yr);
  const f = cfg.frame;

  g.append("g").selectAll("circle").data(cfg.points).join("circle")
    .attr("cx", d => x(d[0])).attr("cy", d => y(d[1])).attr("r", cfg.r)
    .attr("fill", "none").attr("stroke", MARK).attr("stroke-width", cfg.sw);

  g.append("path").attr("d", d3.line().x(d => x(d[0])).y(d => y(d[1]))(cfg.identity))
    .attr("stroke", "#b06a7a").attr("stroke-width", 1.1).attr("stroke-dasharray", "2,3").attr("fill", "none");
  const lp = d3.line().x(d => x(d[0])).y(d => y(d[1]))(cfg.fit);
  g.append("path").attr("d", lp).attr("stroke", "#7c2146").attr("stroke-width", 2.6).attr("fill", "none");
  g.append("path").attr("d", lp).attr("stroke", "#4a48c0").attr("stroke-width", 0.7).attr("fill", "none").attr("opacity", cfg.blue);

  g.append("rect").attr("x", f[0]).attr("y", f[1]).attr("width", f[2] - f[0]).attr("height", f[3] - f[1])
    .attr("fill", "none").attr("stroke", FRAME).attr("stroke-width", 2.2);

  const ya = g.append("g").attr("transform", `translate(${f[0]},0)`)
    .call(d3.axisLeft(y).tickValues(cfg.ticks).tickSize(-10).tickPadding(9).tickFormat(d3.format("d")));
  const xa = g.append("g").attr("transform", `translate(0,${f[3]})`)
    .call(d3.axisBottom(x).tickValues(cfg.ticks).tickSize(-10).tickPadding(11).tickFormat(d3.format("d")));
  [ya, xa].forEach(a => {
    a.select(".domain").remove();
    a.selectAll(".tick line").attr("stroke", FRAME).attr("stroke-width", 2);
    a.selectAll(".tick text").attr("fill", TICKTXT).style("font-family", "'Liberation Sans', Arial, sans-serif").style("font-size", "22px");
  });
  if (cfg.minor) {
    const ym = g.append("g").attr("transform", `translate(${f[0]},0)`)
      .call(d3.axisLeft(y).tickValues(cfg.minor).tickSize(-6).tickFormat(""));
    const xm = g.append("g").attr("transform", `translate(0,${f[3]})`)
      .call(d3.axisBottom(x).tickValues(cfg.minor).tickSize(-6).tickFormat(""));
    [ym, xm].forEach(a => { a.select(".domain").remove(); a.selectAll(".tick line").attr("stroke", FRAME).attr("stroke-width", 2); });
  }

  g.append("text").attr("x", cfg.xt[0]).attr("y", cfg.xt[1]).attr("text-anchor", "middle")
    .style("font-family", "'Open Sans', sans-serif").style("font-size", "23px").attr("fill", TITLE).text(xTitle);
  g.append("text").attr("transform", `translate(${cfg.yt[0]},${cfg.yt[1]}) rotate(-90)`).attr("text-anchor", "middle")
    .style("font-family", "'Open Sans', sans-serif").style("font-size", "24px").attr("fill", TITLE).text(yTitle);
  g.append("text").attr("x", cfg.lab[0]).attr("y", cfg.lab[1])
    .style("font-family", "'Liberation Sans', Arial, sans-serif").style("font-size", "31px").attr("fill", "#111").text(cfg.label);
}

panel({
  points: aPoints, fit: aFit, identity: aIdentity, ticks: aTicks, domain: [0, 25],
  xr: [106, 636.8], yr: [402.6, 24.3], frame: [95.7, 13.3, 647.7, 413.3],
  xt: [374, 476], yt: [31, 204], lab: [19, 41], label: "A", blue: 0.35, r: 3.7, sw: 1.3
});

const bPoints = [];
bX.forEach((xv, i) => bY[i].forEach(yv => bPoints.push([xv, yv])));
bCoreX.forEach((xv, i) => bCoreY[i].forEach(yv => bPoints.push([xv, yv])));
panel({
  points: bPoints, fit: bFit, identity: bIdentity, ticks: bTicks, minor: bMinorTicks, domain: [0, 70],
  xr: [106, 650.6], yr: [935.8, 562.7], frame: [94.3, 551.7, 660, 948.3],
  xt: [385, 1014], yt: [31, 744], lab: [19, 583], label: "B", blue: 0.9, r: 3.8, sw: 1.55
});
</script>
</body></html>
